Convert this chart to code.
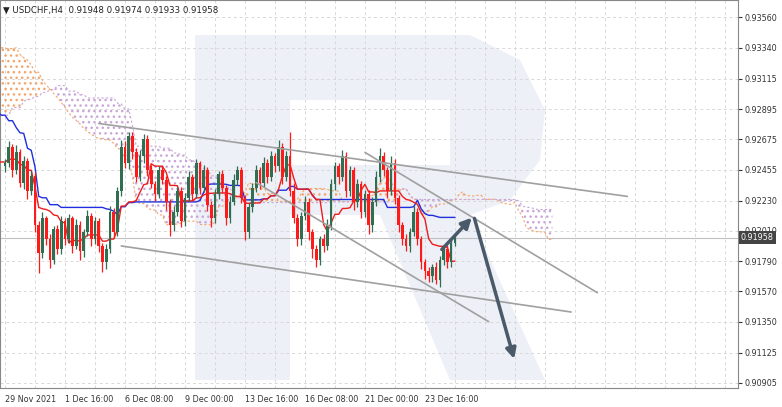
import numpy as np, pandas as pd, seaborn as sns, matplotlib
matplotlib.use("Agg")
import matplotlib.pyplot as plt
from matplotlib.patches import Rectangle, Polygon

sns.set_style("white")
plt.rcParams['font.family'] = ['DejaVu Sans']

prehist = [0.9220,0.9228,0.9215,0.9232,0.9240,0.9226,0.9235,0.9245,0.9238,0.9250,0.9242,0.9255,0.9248,0.9260,0.9252,0.9265,0.9258,0.9270,0.9262,0.9275,0.9268,0.9280,0.9285,0.9278,0.9290,0.9295,
           0.9300,0.9308,0.9302,0.9315,0.9322,0.9318,0.9330,0.9325,0.9335,0.9342,0.9338,0.9345,0.9350,0.9344,0.9352,0.9348,0.9355,0.9350,0.9346,0.9352,0.9340,0.9345,0.9336,0.9342,0.9330,0.9335,
           0.9325,0.9330,0.9318,0.9322,0.9310,0.9305,0.9312,0.9298,0.9290,0.9295,0.9282,0.9275,0.9280,0.9268,0.9262,0.9270,0.9258,0.9250,0.9262,0.9255,0.9245,0.9252,0.9240,0.9248,0.9255,0.9248]
closes = [0.9250,0.9262,0.9245,0.9258,0.9236,0.9252,0.9230,0.9241,
          0.9205,0.9185,0.9210,0.9195,0.9180,0.9202,0.9188,0.9208,
          0.9195,0.9210,0.9190,0.9205,0.9186,0.9200,0.9212,0.9195,
          0.9208,0.9190,0.9178,0.9188,0.9215,0.9200,0.9230,0.9262,
          0.9250,0.9270,0.9258,0.9240,0.9255,0.9268,0.9245,0.9235,
          0.9228,0.9245,0.9238,0.9222,0.9205,0.9215,0.9230,0.9208,
          0.9225,0.9240,0.9228,0.9250,0.9232,0.9245,0.9220,0.9210,
          0.9228,0.9242,0.9232,0.9210,0.9222,0.9238,0.9245,0.9225,
          0.9200,0.9218,0.9232,0.9245,0.9236,0.9250,0.9240,0.9255,
          0.9248,0.9262,0.9240,0.9255,0.9230,0.9210,0.9195,0.9212,
          0.9222,0.9200,0.9188,0.9180,0.9195,0.9190,0.9205,0.9235,
          0.9248,0.9240,0.9255,0.9230,0.9245,0.9222,0.9235,0.9215,
          0.9228,0.9205,0.9222,0.9240,0.9255,0.9245,0.9230,0.9250,
          0.9225,0.9205,0.9195,0.9190,0.9200,0.9215,0.9195,0.9178,
          0.9172,0.9168,0.9175,0.9165,0.9180,0.9188,0.9178,0.9192,0.9196]
up_pips = [6,8,4,10,5,6,4,8, 5,6,9,4,7,5,6,8, 5,7,4,9,6,5,8,4, 6,5,4,7,8,5,6,10,
           8,6,5,7,9,6,5,8, 4,6,7,5,4,8,6,5, 7,9,5,6,4,8,5,6, 7,5,6,4,8,9,6,5,
           4,6,8,7,5,9,6,8, 5,10,6,8,35,12,6,5, 8,5,4,6,5,7,9,8, 6,5,9,7,6,5,8,4,
           6,5,7,9,12,6,5,10, 6,4,5,7,6,8,5,4, 5,6,4,7,5,6,5,4,3]
dn_pips = [8,5,10,6,7,9,12,6, 10,30,7,9,12,6,8,7, 9,6,10,5,12,8,6,10, 7,9,14,10,6,8,5,7,
           6,8,10,7,5,9,8,6, 10,7,6,12,16,8,6,9, 7,5,10,6,8,5,9,12, 6,8,7,10,6,5,8,7,
           12,8,6,5,9,7,8,6, 9,7,10,6,8,7,10,8, 6,12,14,10,8,9,6,7, 8,10,6,9,8,12,7,10,
           8,12,9,6,7,8,10,6, 9,10,8,7,9,6,8,10, 12,9,8,6,9,7,8,6,4]

dates = ["29 Nov 2021","1 Dec 16:00","6 Dec 08:00","9 Dec 00:00","13 Dec 16:00","16 Dec 08:00","21 Dec 00:00","23 Dec 16:00"]
price_ticks = [0.93560,0.93340,0.93115,0.92895,0.92675,0.92455,0.92230,0.92010,0.91790,0.91570,0.91350,0.91125,0.90905]
last_price = 0.91958
title = "USDCHF,H4  0.91948 0.91974 0.91933 0.91958"
trend_lines = [((25,0.9279),(166,0.9226)), ((31,0.9190),(151,0.9142)),
               ((96,0.9258),(158,0.9156)), ((67,0.9236),(129,0.9135))]
arrow_path = [(116,0.9186),(125,0.9212),(136,0.9106)]

n = len(closes)
pre = len(prehist)
allc = np.array(prehist + closes)
opens = np.array([prehist[-1]] + closes[:-1])
c = np.array(closes)
hi = np.maximum(opens, c) + np.array(up_pips)*1e-4/2
lo = np.minimum(opens, c) - np.array(dn_pips)*1e-4/2
allhi = np.concatenate([allc[:pre], hi]); allo = np.concatenate([allc[:pre], lo])
s_hi = pd.Series(allhi); s_lo = pd.Series(allo)
tenkan = (s_hi.rolling(9).max()+s_lo.rolling(9).min())/2
kijun = (s_hi.rolling(26).max()+s_lo.rolling(26).min())/2
spanA = ((tenkan+kijun)/2).values
spanB = ((s_hi.rolling(52).max()+s_lo.rolling(52).min())/2).values
idx_all = np.arange(-pre, n)
cloud_x = idx_all + 26

fig = plt.figure(figsize=(7.82,4.07), dpi=100)
ax = fig.add_axes([0, 19/407, 738/782, 388/407])
ax.set_xlim(-1.33, 195.5)
ax.set_ylim(0.90868, 0.93687)

wm = "#edf0f6"
def px(x,y): return (x/738, 1-y/388)
for poly in [[(195,35),(290,35),(290,380),(195,380)],
             [(290,35),(470,35),(520,60),(545,110),(540,160),(510,200),(470,215),(290,215),(290,165),(450,165),(450,100),(290,100)],
             [(380,215),(470,215),(545,380),(450,380)]]:
    ax.add_patch(Polygon([px(*p) for p in poly], closed=True, transform=ax.transAxes, color=wm, zorder=0, lw=0))

for t in price_ticks:
    ax.axhline(t, color="#d8d8d8", ls=(0,(3,3)), lw=0.7, zorder=0.5)
for xv in np.arange(0, 200, 8):
    ax.axvline(xv, color="#d8d8d8", ls=(0,(3,3)), lw=0.7, zorder=0.5)

m = ~np.isnan(spanA) & ~np.isnan(spanB) & (cloud_x >= -2)
cx, a, b = cloud_x[m], spanA[m], spanB[m]
ax.fill_between(cx, a, b, where=a>=b, interpolate=True, facecolor="none", edgecolor="#f4a56a", hatch="...", lw=0, zorder=1)
ax.fill_between(cx, a, b, where=a<b, interpolate=True, facecolor="none", edgecolor="#c9a6d8", hatch="...", lw=0, zorder=1)
ax.plot(cx, a, color="#f4a56a", ls=(0,(2,2)), lw=0.8, zorder=1)
ax.plot(cx, b, color="#c9a6d8", ls=(0,(2,2)), lw=0.8, zorder=1)

df = pd.DataFrame({"x": idx_all, "tenkan": tenkan, "kijun": kijun})
df = df[df.x >= -2]
sns.lineplot(data=df, x="x", y="kijun", color="#1f2fe0", lw=1, ax=ax, zorder=3)
sns.lineplot(data=df, x="x", y="tenkan", color="#ee1c1c", lw=1, ax=ax, zorder=3)

for i in range(n):
    col = "#2f6e50" if c[i] >= opens[i] else "#ff1a1a"
    ax.vlines(i, lo[i], hi[i], color=col, lw=0.9, zorder=4)
    bot = min(opens[i], c[i]); h = max(abs(c[i]-opens[i]), 0.00003)
    ax.add_patch(Rectangle((i-0.35, bot), 0.7, h, color=col, zorder=5, lw=0))

for (p1, p2) in trend_lines:
    ax.plot([p1[0],p2[0]],[p1[1],p2[1]], color="#a0a0a0", lw=1.2, zorder=6)
for k in range(2):
    ax.annotate("", xy=arrow_path[k+1], xytext=arrow_path[k],
                arrowprops=dict(arrowstyle="-|>,head_width=0.3,head_length=0.6", color="#4a5a6a", lw=2.5), zorder=7)

ax.axhline(last_price, color="#c0c0c0", lw=0.8, zorder=2)

ax.yaxis.tick_right()
ax.set_yticks(price_ticks)
ax.set_yticklabels([f"{t:.5f}" for t in price_ticks], fontsize=5.8)
ax.tick_params(axis="y", length=3, pad=2, colors="#333333")
ax.set_xticks(np.arange(0, 8*16, 16))
ax.set_xticklabels(dates, fontsize=5.8, ha="left")
ax.tick_params(axis="x", length=3, pad=2, colors="#333333")
ax.set_xlabel(""); ax.set_ylabel("")
for s in ax.spines.values(): s.set_color("#888888"); s.set_linewidth(0.8)
ax.text(1.004, (last_price-0.90868)/(0.93687-0.90868), f"{last_price:.5f}", transform=ax.transAxes,
        fontsize=5.8, color="white", va="center", ha="left",
        bbox=dict(boxstyle="square,pad=0.25", fc="#444444", ec="none"))
ax.text(0.004, 0.985, "▼ " + title, transform=ax.transAxes, fontsize=6.2, va="top", ha="left", color="#222222")
fig.savefig("out.png", dpi=100)
